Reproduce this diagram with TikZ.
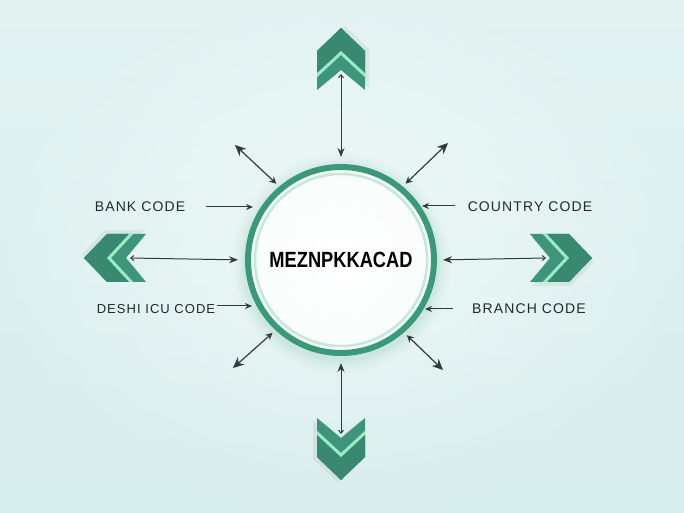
\documentclass[tikz,border=0pt]{standalone}
\usepackage{fontspec}
\usepackage{graphicx}
\setmainfont{Liberation Sans}
\newfontfamily\labelfont[LetterSpace=8]{Liberation Sans}
\usetikzlibrary{shapes, arrows.meta, positioning, calc}

\definecolor{ringgreen}{HTML}{3A9A78}
\definecolor{innerring}{HTML}{C2EAD7}
\definecolor{chevgreen}{HTML}{3F957C}
\definecolor{chevdark}{HTML}{388970}
\definecolor{chevstripe}{HTML}{9BEBC8}
\definecolor{arrowgray}{HTML}{2F3C3C}
\definecolor{textgray}{HTML}{1F2A2A}
\definecolor{bgtop}{HTML}{EAF7F6}
\definecolor{bgbottom}{HTML}{D8EDED}

\tikzset{
  pics/chevron/.style={code={
    \fill[black, opacity=0.05] (-29,20) -- (10,20) -- (33,-4) -- (10,-28) -- (-29,-28) -- (-9,-4) -- cycle;
    \fill[chevgreen] (-31,24) -- (8,24) -- (31,0) -- (8,-24) -- (-31,-24) -- (-11,0) -- cycle;
    \begin{scope}
      \clip (-31,24) -- (8,24) -- (31,0) -- (8,-24) -- (-31,-24) -- (-11,0) -- cycle;
      \fill[chevdark] (-16,26) -- (12,26) -- (35,0) -- (12,-26) -- (-16,-26) -- (8,0) -- cycle;
      \draw[chevstripe, line width=3pt] (-19,27) -- (6,0) -- (-19,-27);
    \end{scope}
    \coordinate (-base) at (-15,0);
  }}
}

\begin{document}
\begin{tikzpicture}[x=1pt, y=1pt]
    \tikzstyle{hub} = [circle, draw=ringgreen, line width=6pt, minimum size=186pt, shading=radial, inner color=white, outer color=white!88!innerring, font=\bfseries\fontsize{22}{26}\selectfont]
    \tikzstyle{codelabel} = [text=textgray, font=\labelfont\fontsize{14}{16}\selectfont, inner sep=0pt]
    \tikzstyle{codearrow} = [draw=arrowgray, line width=1pt, -{Stealth[length=7pt, width=6pt]}]
    \tikzstyle{twoway} = [draw=arrowgray, line width=1pt, {Straight Barb[length=3pt, width=5pt]}-{Stealth[length=9pt, width=7pt]}]
    \tikzstyle{diag} = [draw=arrowgray, line width=1.2pt, {Stealth[length=7pt, width=7pt]}-{Stealth[length=11pt, width=10pt]}]

    % background
    \useasboundingbox (0,0) rectangle (684,513);
    \shade[top color=bgtop, bottom color=bgbottom] (0,0) rectangle (684,513);
    \shade[inner color=white, outer color=bgbottom, opacity=0.45] (0,0) rectangle (684,513);

    % soft glow round the hub
    \foreach \r/\o in {110/0.02, 106/0.03, 102/0.04, 99/0.05}
      \fill[ringgreen, opacity=\o] (341,250) circle (\r);

    \node (c) [hub] at (341,253) {\scalebox{0.83}[1]{MEZNPKKACAD}};
    \draw[innerring, line width=2.5pt] (c.center) circle (86);

    % chevrons
    \pic[rotate=90] (chTop) at (341,454) {chevron};
    \pic[rotate=-90] (chBot) at (341,64) {chevron};
    \pic[rotate=180] (chLeft) at (115,255) {chevron};
    \pic (chRight) at (561,255) {chevron};

    % labels
    \node (bank) [codelabel] at (140,306) {BANK CODE};
    \node (deshi) [codelabel, font=\labelfont\fontsize{13}{15}\selectfont] at (156,204) {DESHI ICU CODE};
    \node (country) [codelabel] at (530,306) {COUNTRY CODE};
    \node (branch) [codelabel] at (529,204) {BRANCH CODE};

    \coordinate (bankTo) at (253,306);
    \coordinate (deshiTo) at (252,207);
    \coordinate (countryTo) at (422,307);
    \coordinate (branchTo) at (425,204);

    \coordinate (ulEnd) at (235,368);
    \coordinate (urEnd) at (448,370);
    \coordinate (llEnd) at (233,145);
    \coordinate (lrEnd) at (443,143);

    % Arrows
    \draw [twoway, shorten >=7pt] (chTop-base) -- (c.north);
    \draw [twoway, shorten >=7pt] (chBot-base) -- (c.south);
    \draw [twoway, shorten >=7pt] (chLeft-base) -- (c.west);
    \draw [twoway, shorten >=6pt] (chRight-base) -- (c.east);

    \draw [codearrow] ([xshift=21pt]bank.east) -- (bankTo);
    \draw [codearrow] ([xshift=2pt]deshi.east |- deshiTo) -- (deshiTo);
    \draw [codearrow] ([xshift=-13pt]country.west |- countryTo) -- (countryTo);
    \draw [codearrow] ([xshift=-19pt]branch.west) -- (branchTo);

    \draw [diag, shorten <=4pt] (c.130) -- (ulEnd);
    \draw [diag, shorten <=4pt] (c.50) -- (urEnd);
    \draw [diag, shorten <=4pt] (c.227) -- (llEnd);
    \draw [diag, shorten <=4pt] (c.311) -- (lrEnd);
  \end{tikzpicture}
\end{document}
